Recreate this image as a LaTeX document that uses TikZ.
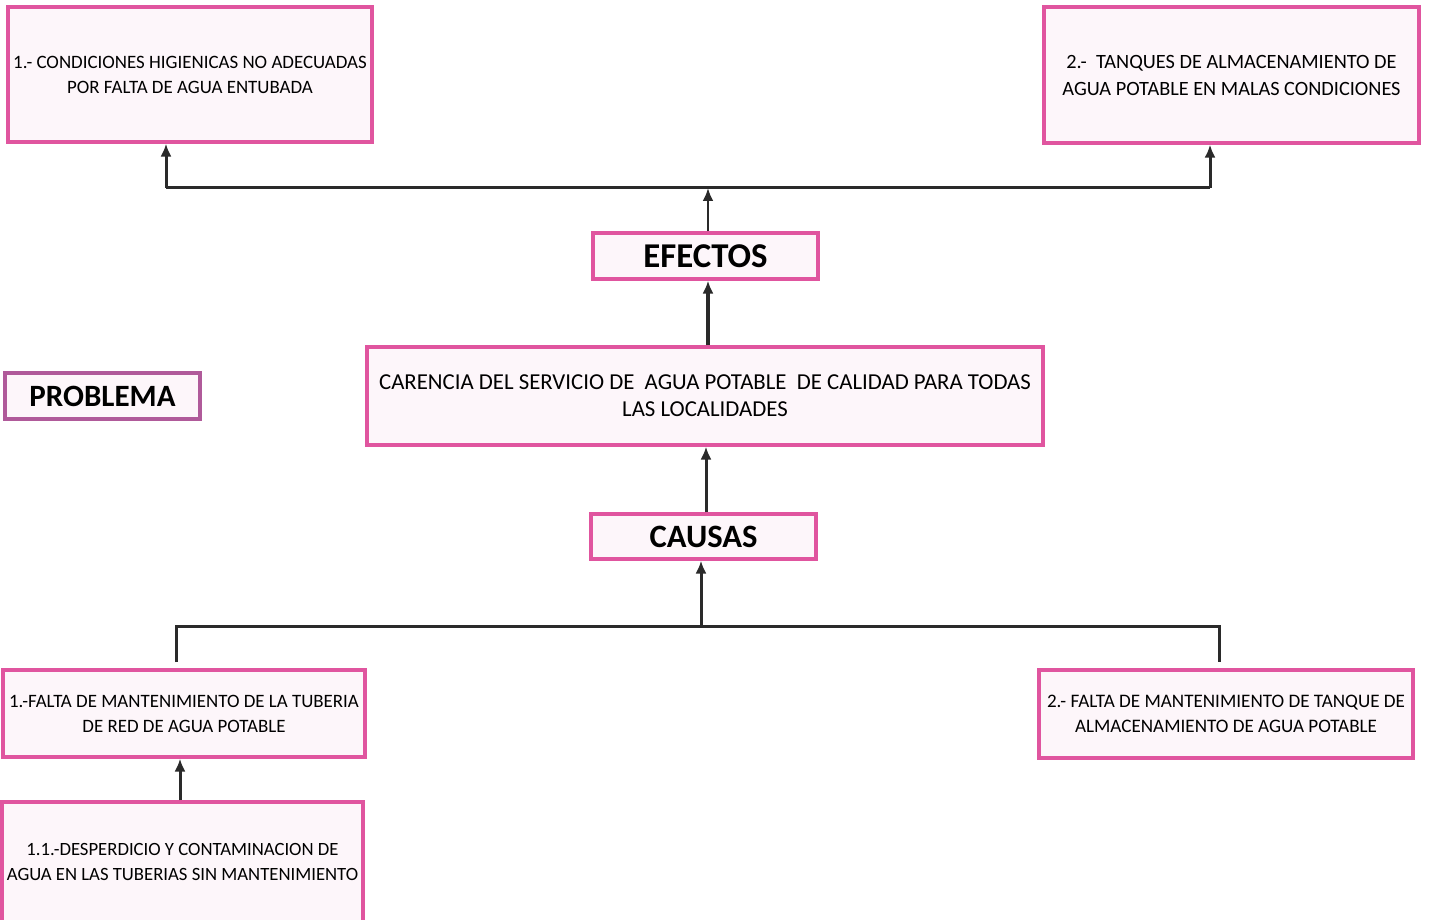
\documentclass[tikz,border=0pt]{standalone}
\usepackage{fontspec}
\setmainfont{Carlito}
\usetikzlibrary{arrows.meta}
\definecolor{boxpink}{HTML}{E0559F}
\definecolor{boxpurple}{HTML}{B05A9A}
\definecolor{boxfill}{HTML}{FDF6FA}
\definecolor{linegray}{HTML}{2A2A2A}
\tikzset{
  pbox/.style={draw=boxpink, line width=3.2pt, fill=boxfill, align=center, inner sep=0pt, font=\fontsize{18.9}{25}\selectfont},
  bigbox/.style={pbox, font=\fontsize{22.8}{27}\selectfont},
  titlebox/.style={pbox, font=\fontsize{32.6}{36}\selectfont\bfseries},
  conn/.style={draw=linegray, line width=3pt},
  arr/.style={conn, -{Latex[length=13pt,width=11pt]}}
}
\begin{document}
\begin{tikzpicture}[x=1pt,y=-1pt]
\useasboundingbox[fill=white] (0,0) rectangle (1429,920);
% effects
\node[pbox, minimum width=364pt, minimum height=135pt] (e1) at (190,74.5)
  {1.- CONDICIONES HIGIENICAS NO ADECUADAS\\POR FALTA DE AGUA ENTUBADA};
\node[pbox, minimum width=375pt, minimum height=136pt, font=\fontsize{20.3}{27}\selectfont] (e2) at (1231.5,75)
  {2.-\ \ TANQUES DE ALMACENAMIENTO DE\\AGUA POTABLE EN MALAS CONDICIONES};
\node[titlebox, minimum width=225pt, minimum height=46pt, font=\fontsize{34.8}{36}\selectfont\bfseries] (ef) at (705.5,256) {EFECTOS};
% problem
\node[bigbox, minimum width=676pt, minimum height=98pt] (prob) at (705,396)
  {CARENCIA DEL SERVICIO DE\ \ AGUA POTABLE\ \ DE CALIDAD PARA TODAS\\LAS LOCALIDADES};
\node[titlebox, draw=boxpurple, minimum width=195pt, minimum height=46pt, font=\fontsize{31}{34}\selectfont\bfseries] (pl) at (102.5,396) {PROBLEMA};
% causes
\node[titlebox, minimum width=225pt, minimum height=45pt] (ca) at (703.5,536.5) {CAUSAS};
\node[pbox, minimum width=362pt, minimum height=87pt] (c1) at (184,713.5)
  {1.-FALTA DE MANTENIMIENTO DE LA TUBERIA\\DE RED DE AGUA POTABLE};
\node[pbox, minimum width=374pt, minimum height=88pt, font=\fontsize{19.1}{25}\selectfont] (c2) at (1226,714)
  {2.- FALTA DE MANTENIMIENTO DE TANQUE DE\\ALMACENAMIENTO DE AGUA POTABLE};
\node[pbox, minimum width=361pt, minimum height=120pt, font=\fontsize{18.7}{25}\selectfont] (c11) at (182.5,862)
  {1.1.-DESPERDICIO Y CONTAMINACION DE\\AGUA EN LAS TUBERIAS SIN MANTENIMIENTO};
% top connectors
\coordinate (jl) at (166,188);
\coordinate (jr) at (1210,188);
\coordinate (jm) at (708,188);
\draw[conn] (jl) -- (jr);
\draw[arr] (jl) -- (jl |- e1.south);
\draw[arr] (jr) -- (jr |- e2.south);
\draw[arr, line width=2.4pt] (ef.north -| jm) -- (jm);
\draw[arr, line width=3.6pt] (prob.north -| jm) -- (jm |- ef.south);
% bottom connectors
\draw[arr] (ca.north -| 706,0) -- (706,0 |- prob.south);
\coordinate (bl) at (176,662);
\coordinate (br) at (1219,662);
\coordinate (bm) at (701,626);
\draw[conn] (bl) -- (bl |- bm) -- (br |- bm) -- (br);
\draw[arr] (bm) -- (bm |- ca.south);
\draw[arr] (c11.north -| 180,0) -- (180,0 |- c1.south);
\end{tikzpicture}
\end{document}
